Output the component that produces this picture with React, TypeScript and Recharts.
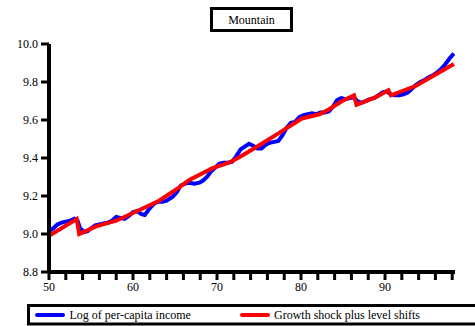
import React from "react";
import { LineChart, Line, XAxis, YAxis } from "recharts";

// Log of per-capita income, Mountain region (year, value)
const incomeYears = [
  50.0, 50.5, 51.0, 51.5, 52.0, 52.5, 53.0, 53.4, 53.7, 54.2, 54.6, 55.0, 55.5, 56.0, 56.5, 57.0,
  57.5, 58.0, 58.5, 59.0, 59.5, 60.0, 60.5, 61.0, 61.4, 61.9, 62.5, 63.0, 63.5, 64.0, 64.7, 65.2,
  65.7, 66.2, 66.7, 67.3, 67.9, 68.3, 68.8, 69.3, 69.8, 70.3, 70.8, 71.3, 71.8, 72.3, 72.8, 73.3,
  73.8, 74.3, 74.8, 75.3, 75.8, 76.3, 76.8, 77.3, 77.8, 78.3, 78.8, 79.3, 79.8, 80.3, 80.8, 81.3,
  81.8, 82.3, 82.8, 83.3, 83.8, 84.3, 84.8, 85.3, 85.8, 86.3, 86.7, 87.2, 87.7, 88.2, 88.7, 89.2,
  89.7, 90.2, 90.7, 91.2, 91.7, 92.2, 92.7, 93.2, 93.7, 94.2, 94.7, 95.2, 95.7, 96.2, 96.7, 97.2,
  97.7, 98.2,
];
const incomeValues = [
  9.015, 9.03, 9.05, 9.06, 9.065, 9.07, 9.08, 9.07, 9.03, 9.01, 9.015, 9.03, 9.045, 9.05, 9.055, 9.06,
  9.07, 9.09, 9.085, 9.08, 9.095, 9.115, 9.12, 9.105, 9.1, 9.13, 9.16, 9.17, 9.17, 9.175, 9.195, 9.22,
  9.255, 9.265, 9.27, 9.265, 9.27, 9.28, 9.3, 9.33, 9.35, 9.37, 9.375, 9.375, 9.38, 9.41, 9.445, 9.46,
  9.475, 9.465, 9.45, 9.45, 9.47, 9.48, 9.485, 9.49, 9.52, 9.56, 9.585, 9.59, 9.615, 9.625, 9.63, 9.635,
  9.63, 9.64, 9.64, 9.645, 9.67, 9.705, 9.715, 9.71, 9.715, 9.72, 9.7, 9.69, 9.7, 9.71, 9.715, 9.73,
  9.745, 9.75, 9.735, 9.73, 9.73, 9.735, 9.745, 9.765, 9.785, 9.8, 9.81, 9.825, 9.835, 9.85, 9.87, 9.895,
  9.925, 9.95,
];

// Fitted path: growth shock plus level shifts
const fitYears = [
  50.0, 53.3, 53.6, 55.6, 58.0, 60.7, 63.1, 65.5, 66.7, 69.4, 71.4, 72.5, 74.6, 77.5, 80.1, 82.2,
  83.3, 84.9, 86.3, 86.6, 88.9, 90.4, 90.7, 93.7, 98.2,
];
const fitValues = [
  8.99, 9.079, 9.0, 9.04, 9.07, 9.125, 9.175, 9.245, 9.285, 9.345, 9.375, 9.4, 9.455, 9.535, 9.608, 9.63,
  9.655, 9.7, 9.73, 9.68, 9.72, 9.757, 9.73, 9.78, 9.895,
];

const xTicks = [
  50, 52, 54, 56, 58, 60, 62, 64, 66, 68, 70, 72, 74, 76, 78, 80, 82, 84, 86, 88, 90, 92, 94, 96, 98,
];
const yTicks = [8.8, 9.0, 9.2, 9.4, 9.6, 9.8, 10.0];

const title = "Mountain";
const seriesNames = ["Log of per-capita income", "Growth shock plus level shifts"];
const seriesColors = ["#0000ff", "#ff0000"];

const incomeData = incomeYears.map((year, i) => ({ year, value: incomeValues[i] }));
const fitData = fitYears.map((year, i) => ({ year, value: fitValues[i] }));

const serif = "Liberation Serif";
const tickStyle = { fill: "#000", fontSize: 12, fontFamily: serif };
const textStyle = { fontFamily: serif, fontSize: 12 };

export default function App() {
  return (
    <div style={{ position: "absolute", left: 0, top: 0, width: 475, height: 326, background: "#fff", overflow: "hidden" }}>
      <LineChart width={475} height={326} margin={{ top: 44, right: 20, left: 0, bottom: 24 }}>
        <XAxis
          type="number"
          dataKey="year"
          domain={[50, 98.33]}
          ticks={xTicks}
          interval={0}
          tickFormatter={(v) => (Math.round(v) % 10 === 0 ? String(Math.round(v)) : "")}
          allowDataOverflow
          axisLine={{ stroke: "#000", strokeWidth: 4 }}
          tickLine={{ stroke: "#000", strokeWidth: 3 }}
          tickSize={8}
          tickMargin={2}
          tick={tickStyle}
          height={30}
        />
        <XAxis xAxisId="top" orientation="top" type="number" domain={[50, 98.33]} tick={false} tickLine={false} axisLine={{ stroke: "#000", strokeWidth: 4 }} height={0} />
        <YAxis
          domain={[8.8, 10.0]}
          ticks={yTicks}
          interval={0}
          tickFormatter={(v) => Number(v).toFixed(1)}
          allowDataOverflow
          axisLine={{ stroke: "#000", strokeWidth: 4 }}
          tickLine={{ stroke: "#000", strokeWidth: 3 }}
          tickSize={8}
          tickMargin={3}
          tick={tickStyle}
          width={49}
        />
        <YAxis yAxisId="right" orientation="right" domain={[8.8, 10.0]} tick={false} tickLine={false} axisLine={{ stroke: "#000", strokeWidth: 4 }} width={0} />
        <Line data={incomeData} dataKey="value" stroke={seriesColors[0]} strokeWidth={4} dot={false} type="linear" isAnimationActive={false} />
        <Line data={fitData} dataKey="value" stroke={seriesColors[1]} strokeWidth={4} dot={false} type="linear" isAnimationActive={false} />
      </LineChart>

      {/* title box and legend strip */}
      <svg width={475} height={326} style={{ position: "absolute", left: 0, top: 0, pointerEvents: "none" }}>
        <rect x={211.5} y={8.5} width={80} height={22} fill="#fff" stroke="#000" strokeWidth={3} />
        <text x={251.5} y={23.5} textAnchor="middle" style={textStyle} fill="#000">
          {title}
        </text>

        <rect x={28.5} y={305.5} width={460} height={18.5} fill="#fff" stroke="#000" strokeWidth={3} />
        <line x1={37} y1={315} x2={63} y2={315} stroke={seriesColors[0]} strokeWidth={4} strokeLinecap="round" />
        <text x={69.5} y={318.5} style={textStyle} fill="#000">
          {seriesNames[0]}
        </text>
        <line x1={242} y1={315} x2={268} y2={315} stroke={seriesColors[1]} strokeWidth={4} strokeLinecap="round" />
        <text x={274} y={318.5} style={textStyle} fill="#000">
          {seriesNames[1]}
        </text>
      </svg>
    </div>
  );
}
